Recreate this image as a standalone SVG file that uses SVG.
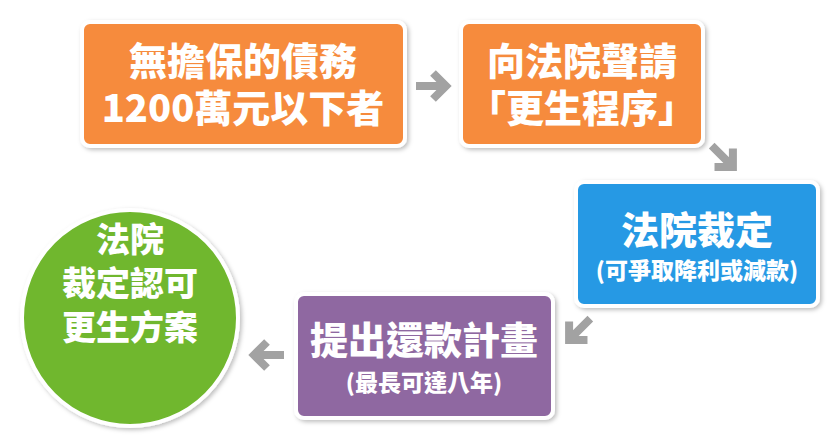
<svg xmlns="http://www.w3.org/2000/svg" width="840" height="440" viewBox="0 0 840 440">
<defs>
<filter id="sh" x="-10%" y="-10%" width="125%" height="125%"><feDropShadow dx="2" dy="2" stdDeviation="2" flood-color="#000" flood-opacity="0.25"/></filter>
<g id="arr">
<path d="M-18 0H13M1-14L15 0L1 14" fill="none" stroke="#fff" stroke-width="13" stroke-linejoin="miter"/>
<path d="M-16 0H13M1-13L14 0L1 13" fill="none" stroke="#a2a2a2" stroke-width="8" stroke-linejoin="miter"/>
</g>
</defs>
<style>
.b{stroke:#fff;stroke-width:4;filter:url(#sh)}
.t{font-family:"Noto Sans CJK TC","Noto Sans CJK SC",sans-serif;font-weight:900;fill:#fff;text-anchor:middle}
.L{font-size:38px}.S{font-size:23px}
</style>
<rect width="840" height="440" fill="#fff"/>
<g id="connectors">
<use href="#arr" transform="translate(432,86)"/>
<use href="#arr" transform="translate(723,157) rotate(45)"/>
<use href="#arr" transform="translate(579,330) rotate(135)"/>
<use href="#arr" transform="translate(268,355) rotate(180)"/>
</g>
<g id="n1"><rect class="b" x="82" y="22" width="323" height="124" rx="8" fill="#f68b3c"/>
<text class="t L" x="243" y="75">無擔保的債務</text><text class="t L" x="243" y="122">1200萬元以下者</text></g>
<g id="n2"><rect class="b" x="461" y="22" width="242" height="124" rx="8" fill="#f68b3c"/>
<text class="t L" x="582" y="75">向法院聲請</text><text class="t L" x="582" y="122">「更生程序」</text></g>
<g id="n3"><rect class="b" x="576" y="182" width="242" height="124" rx="8" fill="#2699e4"/>
<text class="t L" x="697" y="244">法院裁定</text><text class="t S" x="697" y="279">(可爭取降利或減款)</text></g>
<g id="n4"><rect class="b" x="296" y="294" width="257" height="124" rx="8" fill="#8f67a1"/>
<text class="t L" x="424" y="354">提出還款計畫</text><text class="t S" x="424" y="391">(最長可達八年)</text></g>
<g id="n5"><circle class="b" cx="130" cy="318" r="108" fill="#70b72e" stroke-width="5"/>
<text class="t" x="130" y="252" font-size="34">法院</text><text class="t" x="130" y="296" font-size="34">裁定認可</text><text class="t" x="130" y="340" font-size="34">更生方案</text></g>
</svg>
